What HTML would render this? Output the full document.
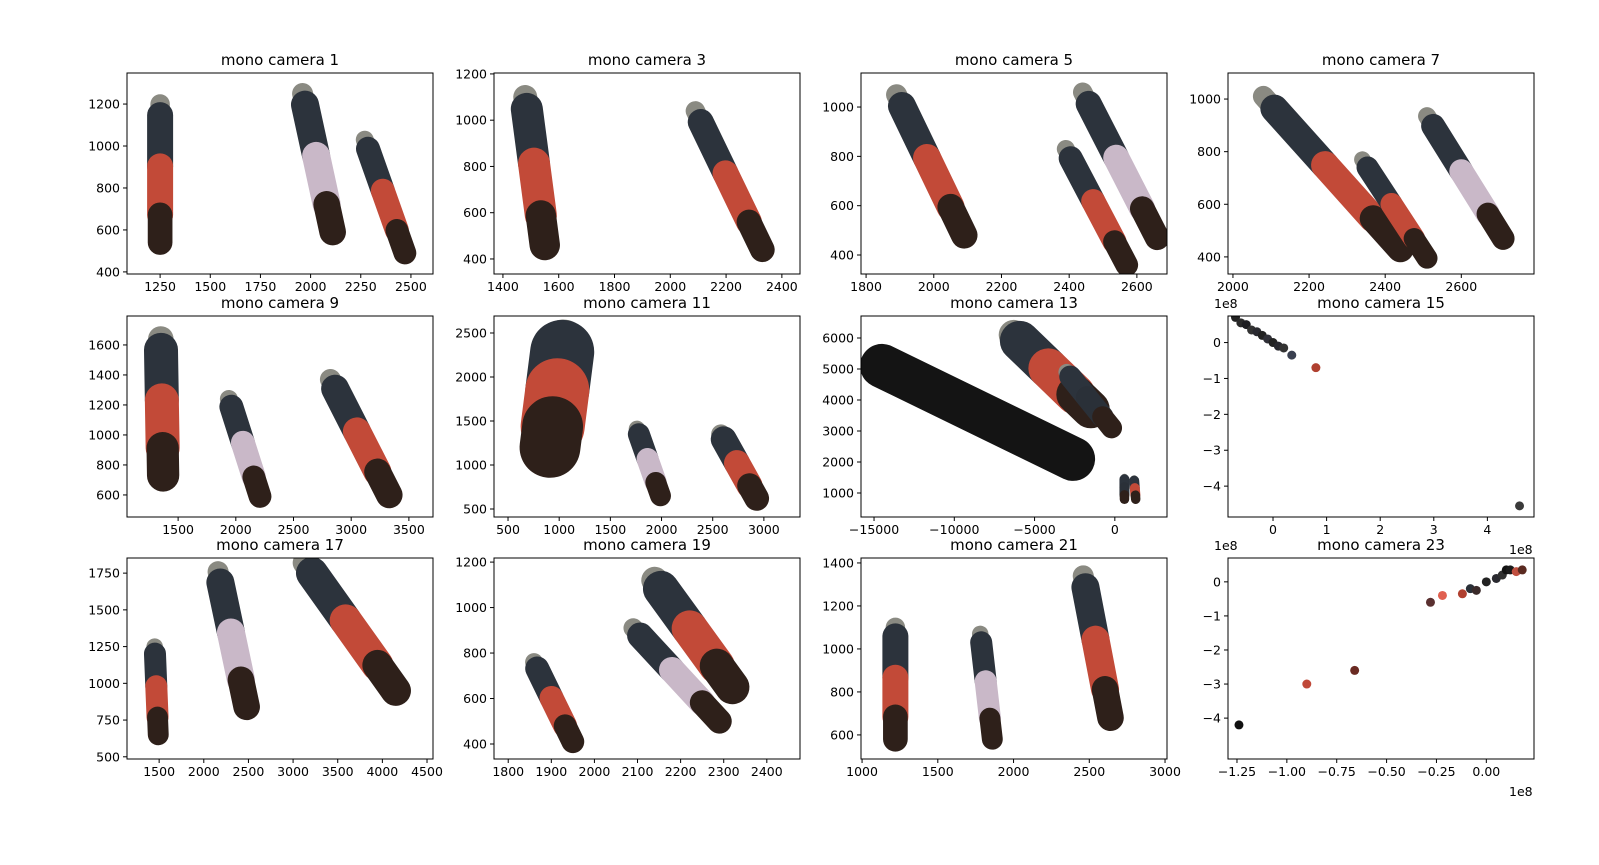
<!DOCTYPE html>
<html><head><meta charset="utf-8">
<style>
html,body{margin:0;padding:0;background:#fff;}
svg{display:block;font-family:"DejaVu Sans","Liberation Sans",sans-serif;}
</style></head>
<body>
<svg id="fig" width="1599" height="865" viewBox="0 0 1599 865" xmlns="http://www.w3.org/2000/svg"></svg>
<script>
// ---- data ----
const panelTitles = ["mono camera 1","mono camera 3","mono camera 5","mono camera 7","mono camera 9","mono camera 11","mono camera 13","mono camera 15","mono camera 17","mono camera 19","mono camera 21","mono camera 23"];
const xDomains = [[1085,2610],[1368,2465],[1785,2689],[1987,2791],[1057,3709],[363,3353],[-15812,3250],[-0.84,4.87],[1140,4567],[1767,2477],[993,3013],[-1.295,0.239]];
const yDomains = [[390,1348],[335,1204],[323,1138],[335,1099],[453,1793],[409,2693],[226,6710],[-4.86,0.74],[485,1853],[334,1218],[488,1423],[-5.2,0.7]];
const xTicks = [[1250,1500,1750,2000,2250,2500],[1400,1600,1800,2000,2200,2400],[1800,2000,2200,2400,2600],[2000,2200,2400,2600],[1500,2000,2500,3000,3500],[500,1000,1500,2000,2500,3000],[-15000,-10000,-5000,0],[0,1,2,3,4],[1500,2000,2500,3000,3500,4000,4500],[1800,1900,2000,2100,2200,2300,2400],[1000,1500,2000,2500,3000],[-1.25,-1.00,-0.75,-0.50,-0.25,0.00]];
const yTicks = [[400,600,800,1000,1200],[400,600,800,1000,1200],[400,600,800,1000],[400,600,800,1000],[600,800,1000,1200,1400,1600],[500,1000,1500,2000,2500],[1000,2000,3000,4000,5000,6000],[0,-1,-2,-3,-4],[500,750,1000,1250,1500,1750],[400,600,800,1000,1200],[600,800,1000,1200,1400],[0,-1,-2,-3,-4]];
// persons: [panel, feetX, feetY, headX, headY, shirt]
const persons = [
 [0,1250,1200,1250,540,"red"],[0,1960,1250,2110,590,"white"],[0,2270,1030,2470,490,"red"],
 [1,1480,1100,1550,460,"red"],[1,2090,1040,2330,440,"red"],
 [2,1890,1050,2090,480,"red"],[2,2440,1060,2660,470,"white"],[2,2390,830,2570,360,"red"],
 [3,2080,1010,2440,430,"red"],[3,2340,770,2510,395,"red"],[3,2510,935,2710,470,"white"],
 [4,1350,1640,1370,730,"red"],[4,1940,1240,2210,590,"white"],[4,2820,1370,3330,600,"red"],
 [5,1040,2380,910,1200,"red"],[5,1760,1410,1990,650,"white"],[5,2580,1350,2930,620,"red"],
 [6,-14500,5100,-2600,2100,"black"],[6,-6300,6100,-1500,3700,"red"],[6,-3000,4900,-200,3100,"dark"],[6,600,1500,600,800,"dark"],[6,1200,1450,1300,800,"red"],
 [8,1450,1250,1490,650,"red"],[8,2160,1760,2480,840,"white"],[8,3130,1820,4150,950,"red"],
 [9,1860,760,1950,410,"red"],[9,2140,1120,2320,650,"red"],[9,2090,910,2290,500,"white"],
 [10,1220,1100,1220,580,"red"],[10,1780,1070,1860,580,"white"],[10,2460,1340,2640,680,"red"]
];
const personWidths = [26,28,24, 32,26, 28,26,24, 28,22,24, 34,24,28, 64,22,26, 44,40,22,10,10, 22,28,32, 24,36,26, 26,22,28];
// scatter panels
const s15x = [-0.7,-0.6,-0.5,-0.4,-0.3,-0.2,-0.1,0,0.1,0.2,0.35,0.8,4.6];
const s15y = [0.7,0.55,0.5,0.35,0.3,0.2,0.1,0,-0.1,-0.15,-0.35,-0.7,-4.55];
const s15c = ["#222","#2a2a2a","#1e1e22","#333","#2a2a30","#222","#303038","#222","#28282e","#333","#3a4050","#b04030","#3a3a3a"];
const s23x = [-1.24,-0.9,-0.66,-0.28,-0.22,-0.12,-0.08,-0.05,0,0.05,0.08,0.1,0.12,0.15,0.18];
const s23y = [-4.2,-3.0,-2.6,-0.6,-0.4,-0.35,-0.2,-0.25,0,0.1,0.2,0.35,0.35,0.3,0.35];
const s23c = ["#111","#c04838","#6a2a22","#5a3030","#e06050","#b04030","#2a3038","#3a2a2a","#222","#2a2a30","#303030","#111","#1a1a1a","#c05040","#5a2a20"];

// ---- layout ----
const colX = [127,494,861,1228], colW = 306;
const rowY = [73,316,558], rowH = 201;
const NS = "http://www.w3.org/2000/svg";
const fig = document.getElementById('fig');
function mk(tag, attrs, parent){ const e=document.createElementNS(NS,tag); for(const k in attrs) e.setAttribute(k,attrs[k]); (parent||fig).appendChild(e); return e; }
function fmt(v,p,axis){ let s; if(p===11 && axis==='x') s=v.toFixed(2); else s=String(v); return s.replace('-','−'); }
const shirtCol = {red:"#c24a38",white:"#c9b8c8",black:"#141414",dark:"#2a3038"};

for(let p=0;p<12;p++){
  const x0=colX[p%4], y0=rowY[Math.floor(p/4)];
  const [xa,xb]=xDomains[p], [ya,yb]=yDomains[p];
  const sx=v=>x0+(v-xa)/(xb-xa)*colW;
  const sy=v=>y0+rowH-(v-ya)/(yb-ya)*rowH;
  const g=mk('g',{});
  
  
  const clipId='c'+p;
  const cp=mk('clipPath',{id:clipId},g); mk('rect',{x:x0,y:y0,width:colW,height:rowH},cp);
  const marks=mk('g',{'clip-path':'url(#'+clipId+')'},g);
  
  
  persons.forEach((pr,i)=>{
    if(pr[0]!==p) return;
    const fx=sx(pr[1]),fy=sy(pr[2]),hx=sx(pr[3]),hy=sy(pr[4]);
    const w=personWidths[i];
    const pg=mk('g',{},marks);
    
    
    const segs = pr[5]==="black" ? [[0,1,"#141414"]] :
      [[0,0.08,"#8a8a82"],[0.08,0.45,"#2c333c"],[0.45,0.8,shirtCol[pr[5]]],[0.8,1,"#2e201a"]];
    segs.forEach(s=>{
      const ax=fx+(hx-fx)*s[0], ay=fy+(hy-fy)*s[0], bx=fx+(hx-fx)*s[1], by=fy+(hy-fy)*s[1];
      const ww = s[2]==="#8a8a82"? w*0.75 : (s[2]==="#2e201a"? w*0.95 : w);
      mk('line',{x1:ax,y1:ay,x2:bx,y2:by,stroke:s[2],'stroke-width':ww,'stroke-linecap':'round'},pg);
    });
  });
  const sc = p===7?[s15x,s15y,s15c]:(p===11?[s23x,s23y,s23c]:null);
  if(sc){ sc[0].forEach((v,i)=>{ const c=mk('circle',{cx:sx(v),cy:sy(sc[1][i]),r:4.5,fill:sc[2][i]},marks);
      }); }
  mk('rect',{x:x0,y:y0,width:colW,height:rowH,fill:'none',stroke:'#000','stroke-width':1},g);
  xTicks[p].forEach(t=>{ const X=sx(t);
    mk('line',{x1:X,y1:y0+rowH,x2:X,y2:y0+rowH+4,stroke:'#000'},g);
    const tx=mk('text',{x:X,y:y0+rowH+17,'font-size':12.5,'text-anchor':'middle'},g); tx.textContent=fmt(t,p,'x');
      });
  yTicks[p].forEach(t=>{ const Y=sy(t);
    mk('line',{x1:x0-4,y1:Y,x2:x0,y2:Y,stroke:'#000'},g);
    const tx=mk('text',{x:x0-7,y:Y+4.5,'font-size':12.5,'text-anchor':'end'},g); tx.textContent=fmt(t,p,'y');
      });
  const tt=mk('text',{x:x0+colW/2,y:y0-8,'font-size':15,'text-anchor':'middle'},g); tt.textContent=panelTitles[p];
   
  if(p===7||p===11){
    const o1=mk('text',{x:x0-14,y:y0-8,'font-size':12.5},g); o1.textContent='1e8';
     
    const o2=mk('text',{x:x0+colW-25,y:y0+rowH+37,'font-size':12.5},g); o2.textContent='1e8';
     
  }
}
</script>
</body></html>
